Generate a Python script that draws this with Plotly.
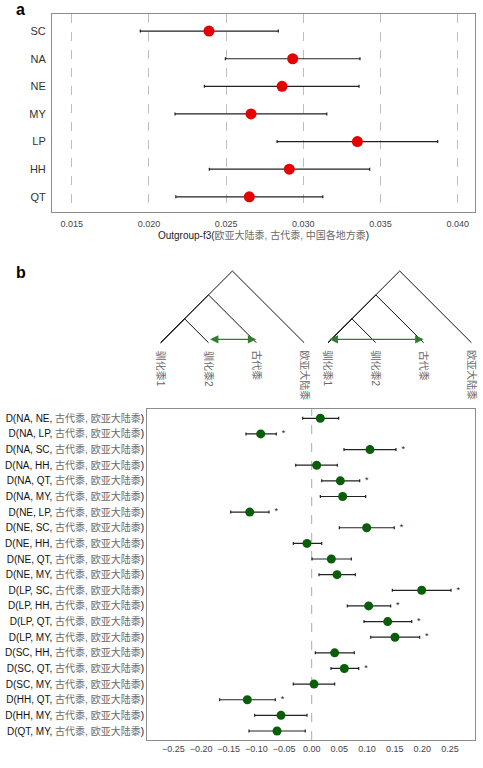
import plotly.graph_objects as go

# ---------------- data: panel a ----------------
pops_a = ["SC", "NA", "NE", "MY", "LP", "HH", "QT"]
f3_val = [0.02389, 0.02931, 0.02862, 0.02661, 0.03350, 0.02909, 0.02650]
f3_lo = [0.01944, 0.02495, 0.02359, 0.02169, 0.02830, 0.02391, 0.02174]
f3_hi = [0.02838, 0.03367, 0.03361, 0.03152, 0.03870, 0.03430, 0.03126]
a_ticks = [0.015, 0.020, 0.025, 0.030, 0.035, 0.040]

# ---------------- data: panel b ----------------
pairs_b = ["NA, NE", "NA, LP", "NA, SC", "NA, HH", "NA, QT", "NA, MY",
           "NE, LP", "NE, SC", "NE, HH", "NE, QT", "NE, MY",
           "LP, SC", "LP, HH", "LP, QT", "LP, MY",
           "SC, HH", "SC, QT", "SC, MY", "HH, QT", "HH, MY", "QT, MY"]
d_val = [0.0156, -0.0922, 0.1054, 0.0090, 0.0518, 0.0560,
         -0.1121, 0.0994, -0.0085, 0.0355, 0.0458,
         0.1989, 0.1030, 0.1374, 0.1506,
         0.0415, 0.0590, 0.0042, -0.1164, -0.0555, -0.0627]
d_lo = [-0.0163, -0.1188, 0.0584, -0.0289, 0.0181, 0.0156,
        -0.1465, 0.0500, -0.0332, 0.0006, 0.0132,
        0.1458, 0.0644, 0.0946, 0.1067,
        0.0066, 0.0349, -0.0332, -0.1664, -0.1031, -0.1134]
d_hi = [0.0488, -0.0640, 0.1524, 0.0463, 0.0868, 0.0976,
        -0.0772, 0.1494, 0.0181, 0.0717, 0.0789,
        0.2519, 0.1428, 0.1808, 0.1952,
        0.0771, 0.0850, 0.0415, -0.0658, -0.0085, -0.0116]
d_sig = [False, True, True, False, True, False,
         True, True, False, False, False,
         True, True, True, True,
         False, True, False, True, False, False]
b_ticks = [-0.25, -0.20, -0.15, -0.10, -0.05, 0.00, 0.05, 0.10, 0.15, 0.20, 0.25]

# ---------------- data: tree diagram ----------------
leaf_names = ["驯化黍1", "驯化黍2", "古代黍", "欧亚大陆黍"]
clades = [(0, 3), (0, 2), (0, 1)]          # (((1,2),3),4) cladogram
tree_offsets = [0.0, 3.5]
arrow_pairs = [(1, 2), (0, 2)]             # gene-flow arrows per tree

W, H = 483, 768
FONT = "Liberation Sans, Arial, 'Noto Sans CJK SC', sans-serif"
GREY_CN = "#6a6a6a"
STAR_GAP = 0.013

def px_x(p):
    return p / W

def px_y(p):
    return 1 - p / H

fig = go.Figure()

# ---------- panel a ----------
fig.add_trace(go.Scatter(
    x=f3_val, y=pops_a, mode="markers",
    marker=dict(color="#e60000", size=11),
    error_x=dict(type="data", symmetric=False,
                 array=[h - v for h, v in zip(f3_hi, f3_val)],
                 arrayminus=[v - l for v, l in zip(f3_val, f3_lo)],
                 color="#222222", thickness=1.2, width=1.5),
    xaxis="x", yaxis="y", showlegend=False, hoverinfo="skip"))

# ---------- panel b ----------
b_labels = [f"D({p}, <span style='color:{GREY_CN}'>古代黍, 欧亚大陆黍</span>)" for p in pairs_b]
fig.add_trace(go.Scatter(
    x=d_val, y=pairs_b, mode="markers",
    marker=dict(color="#0a5d0a", size=9),
    error_x=dict(type="data", symmetric=False,
                 array=[h - v for h, v in zip(d_hi, d_val)],
                 arrayminus=[v - l for v, l in zip(d_val, d_lo)],
                 color="#222222", thickness=1.2, width=1.5),
    xaxis="x2", yaxis="y2", showlegend=False, hoverinfo="skip"))

star_x = [h + STAR_GAP for h, s in zip(d_hi, d_sig) if s]
star_y = [p for p, s in zip(pairs_b, d_sig) if s]
fig.add_trace(go.Scatter(
    x=star_x, y=star_y, mode="text", text=["*"] * len(star_x),
    textposition="middle center", textfont=dict(size=9, color="#222222", family=FONT),
    xaxis="x2", yaxis="y2", showlegend=False, hoverinfo="skip"))

# ---------- tree diagrams ----------
for off in tree_offsets:
    xs, ys = [], []
    for i, j in clades:
        nx, nh = (i + j) / 2, (j - i) / 2
        for leaf in (i, j):
            xs += [off + nx, off + leaf, None]
            ys += [nh, 0, None]
    fig.add_trace(go.Scatter(x=xs, y=ys, mode="lines",
                             line=dict(color="#111111", width=1),
                             xaxis="x3", yaxis="y3", showlegend=False, hoverinfo="skip"))

annotations = []
for off, (a, b) in zip(tree_offsets, arrow_pairs):
    for k, name in enumerate(leaf_names):
        annotations.append(dict(
            x=off + k, y=-0.12, xref="x3", yref="y3", text=name, showarrow=False,
            textangle=90, xanchor="center", yanchor="top",
            font=dict(size=10, color=GREY_CN, family=FONT)))
    annotations.append(dict(
        x=off + b, y=0.07, ax=off + a, ay=0.07, xref="x3", yref="y3",
        axref="x3", ayref="y3", text="", showarrow=True,
        arrowhead=2, startarrowhead=2, arrowside="end+start",
        arrowsize=1.2, startarrowsize=1.2, arrowwidth=1.4, arrowcolor="#2e7d32"))

# panel letters
annotations.append(dict(x=px_x(14), y=px_y(9), xref="paper", yref="paper", text="<b>a</b>",
                        showarrow=False, xanchor="left", yanchor="middle",
                        font=dict(size=16, color="#000", family=FONT)))
annotations.append(dict(x=px_x(14), y=px_y(272), xref="paper", yref="paper", text="<b>b</b>",
                        showarrow=False, xanchor="left", yanchor="middle",
                        font=dict(size=16, color="#000", family=FONT)))

shapes = [dict(type="line", xref="x2", yref="y2 domain", x0=0, x1=0, y0=0, y1=1,
               line=dict(color="#aaaaaa", width=1, dash="dash"), layer="below")]

box = dict(showline=True, mirror=True, linecolor="#8c8c8c", linewidth=1, automargin=False)

fig.update_layout(
    width=W, height=H, margin=dict(l=0, r=0, t=0, b=0, autoexpand=False),
    paper_bgcolor="white", plot_bgcolor="white", showlegend=False,
    font=dict(family=FONT, size=10, color="#222"),
    xaxis=dict(domain=[px_x(52), px_x(475)], range=[0.01372, 0.04112],
               tickvals=a_ticks, ticktext=[f"{t:.3f}" for t in a_ticks],
               tickfont=dict(size=9, color="#444"),
               ticks="outside", ticklen=3, tickcolor="rgba(0,0,0,0)",
               showgrid=True, gridcolor="#bdbdbd", griddash="dash", gridwidth=1,
               zeroline=False, anchor="y",
               title=dict(text=f"Outgroup-f3(<span style='color:{GREY_CN}'>欧亚大陆黍, 古代黍, 中国各地方黍</span>)",
                          font=dict(size=10, color="#222"), standoff=4),
               **box),
    yaxis=dict(domain=[px_y(212), px_y(14)], type="category",
               categoryorder="array", categoryarray=pops_a, range=[6.55, -0.62],
               tickfont=dict(size=11, color="#333"),
               ticks="outside", ticklen=3, tickcolor="rgba(0,0,0,0)",
               showgrid=False, zeroline=False, anchor="x", **box),
    xaxis2=dict(domain=[px_x(147), px_x(475)], range=[-0.2978, 0.2953],
                tickvals=b_ticks, ticktext=[f"{t:.2f}".replace("-", "−") for t in b_ticks],
                tickfont=dict(size=9, color="#444"),
                ticks="", showgrid=False, zeroline=False, anchor="y2", **box),
    yaxis2=dict(domain=[px_y(740), px_y(409)], type="category",
                categoryorder="array", categoryarray=pairs_b, range=[20.575, -0.595],
                tickvals=pairs_b, ticktext=b_labels,
                tickfont=dict(size=10, color="#111"),
                ticks="", showgrid=False, zeroline=False, anchor="x2", **box),
    xaxis3=dict(domain=[px_x(147), px_x(475)], range=[-0.2866, 6.575],
                visible=False, fixedrange=True, anchor="y3", automargin=False),
    yaxis3=dict(domain=[px_y(400), px_y(255)], range=[-1.199, 1.835],
                visible=False, fixedrange=True, anchor="x3", automargin=False),
    annotations=annotations, shapes=shapes,
)

fig.write_html("out.html", config={"displayModeBar": False},
               post_script="document.body.style.margin='0';document.body.style.overflow='hidden';")
